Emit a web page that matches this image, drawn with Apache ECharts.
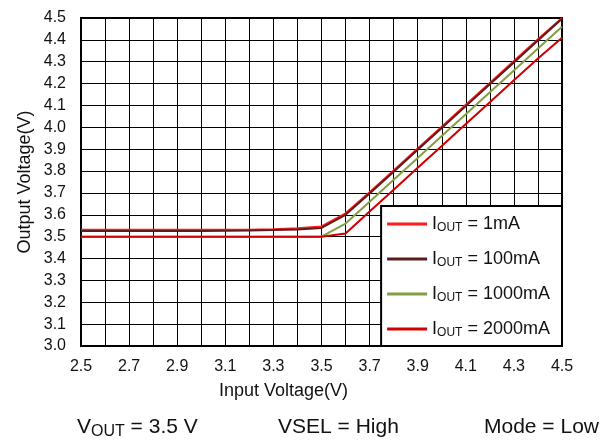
<!DOCTYPE html>
<html>
<head>
<meta charset="utf-8">
<script src="https://cdn.jsdelivr.net/npm/echarts@6/dist/echarts.min.js"></script>
<style>
  html, body { margin: 0; padding: 0; background: #fff; }
  #chart { width: 613px; height: 444px; }
</style>
</head>
<body>
<div id="chart"></div>
<script>
  // input voltage (V), one point every 0.1 V
  var vin = [2.5, 2.6, 2.7, 2.8, 2.9, 3.0, 3.1, 3.2, 3.3, 3.4, 3.5,
             3.6, 3.7, 3.8, 3.9, 4.0, 4.1, 4.2, 4.3, 4.4, 4.5];
  // output voltage (V) per load current
  var vout1mA    = [3.532, 3.532, 3.532, 3.532, 3.532, 3.532, 3.532, 3.532, 3.534, 3.538, 3.547,
                    3.607, 3.703, 3.803, 3.903, 4.003, 4.103, 4.203, 4.303, 4.403, 4.50];
  var vout100mA  = [3.526, 3.526, 3.526, 3.526, 3.526, 3.526, 3.527, 3.528, 3.53, 3.533, 3.54,
                    3.60, 3.697, 3.797, 3.897, 3.997, 4.097, 4.197, 4.297, 4.397, 4.497];
  var vout1000mA = [3.50, 3.50, 3.50, 3.50, 3.50, 3.50, 3.50, 3.50, 3.50, 3.50, 3.50,
                    3.56, 3.66, 3.76, 3.86, 3.96, 4.06, 4.16, 4.26, 4.36, 4.46];
  var vout2000mA = [3.50, 3.50, 3.50, 3.50, 3.50, 3.50, 3.50, 3.50, 3.50, 3.50, 3.50,
                    3.515, 3.615, 3.715, 3.815, 3.915, 4.015, 4.115, 4.215, 4.315, 4.41];
  var seriesNames = ['1mA', '100mA', '1000mA', '2000mA'];
  var seriesColors = ['#ff1a1a', '#5e1c1c', '#82a043', '#d00000'];
  var seriesZ = [9, 10, 7, 8];
  var seriesValues = [vout1mA, vout100mA, vout1000mA, vout2000mA];

  var chart = echarts.init(document.getElementById('chart'));
  var font = 'Liberation Sans, Arial, sans-serif';

  function pairs(ys) {
    return vin.map(function (x, i) { return [x, ys[i]]; });
  }

  var series = seriesNames.map(function (n, i) {
    return {
      name: n,
      type: 'line',
      symbol: 'none',
      data: pairs(seriesValues[i]),
      lineStyle: { color: seriesColors[i], width: 2 },
      itemStyle: { color: seriesColors[i] },
      z: seriesZ[i]
    };
  });

  chart.setOption({
    animation: false,
    textStyle: { fontFamily: font },
    grid: {
      left: 81, top: 18, right: 51, bottom: 98,
      show: true, borderColor: '#000', borderWidth: 2,
      backgroundColor: '#fff'
    },
    xAxis: {
      type: 'value',
      min: 2.5, max: 4.5, interval: 0.1,
      axisLine: { show: false },
      axisTick: { show: false },
      splitLine: { lineStyle: { color: '#000', width: 1 } },
      axisLabel: {
        color: '#111', fontSize: 16, margin: 13,
        formatter: function (v) {
          var k = Math.round(v * 10);
          return k % 2 === 1 ? (k / 10).toFixed(1) : '';
        }
      }
    },
    yAxis: {
      type: 'value',
      min: 3.0, max: 4.5, interval: 0.1,
      axisLine: { show: false },
      axisTick: { show: false },
      splitLine: { lineStyle: { color: '#000', width: 1 } },
      axisLabel: {
        color: '#111', fontSize: 16, margin: 15,
        formatter: function (v) { return v.toFixed(1); }
      }
    },
    legend: {
      data: seriesNames,
      orient: 'vertical',
      right: 51, bottom: 98,
      backgroundColor: '#fff',
      borderColor: '#000', borderWidth: 2,
      padding: [9, 12, 7, 6],
      itemGap: 16,
      itemWidth: 40, itemHeight: 3,
      icon: 'rect',
      formatter: function (name) {
        return '{m|I}{s|OUT}{m| = ' + name + '}';
      },
      textStyle: {
        fontFamily: font,
        rich: {
          m: { fontSize: 18, color: '#111', fontFamily: font },
          s: { fontSize: 12, color: '#111', fontFamily: font, padding: [8, 0, 0, 0] }
        }
      }
    },
    graphic: [
      {
        type: 'text', left: 219, top: 382,
        style: { text: 'Input Voltage(V)', fontSize: 18, fontFamily: font, fill: '#111' }
      },
      {
        type: 'text', x: 25, y: 182, rotation: Math.PI / 2,
        style: { text: 'Output Voltage(V)', fontSize: 18, fontFamily: font, fill: '#111',
                 align: 'center', verticalAlign: 'middle' }
      },
      {
        type: 'text', left: 77, top: 417,
        style: {
          text: '{m|V}{s|OUT}{m| = 3.5 V}', fontFamily: font,
          rich: {
            m: { fontSize: 21, fill: '#111', fontFamily: font },
            s: { fontSize: 16, fill: '#111', fontFamily: font, padding: [9, 0, 0, 0] }
          }
        }
      },
      {
        type: 'text', left: 278, top: 417,
        style: { text: 'VSEL = High', fontSize: 21, fontFamily: font, fill: '#111' }
      },
      {
        type: 'text', left: 484, top: 417,
        style: { text: 'Mode = Low', fontSize: 21, fontFamily: font, fill: '#111' }
      }
    ],
    series: series
  });
</script>
</body>
</html>
